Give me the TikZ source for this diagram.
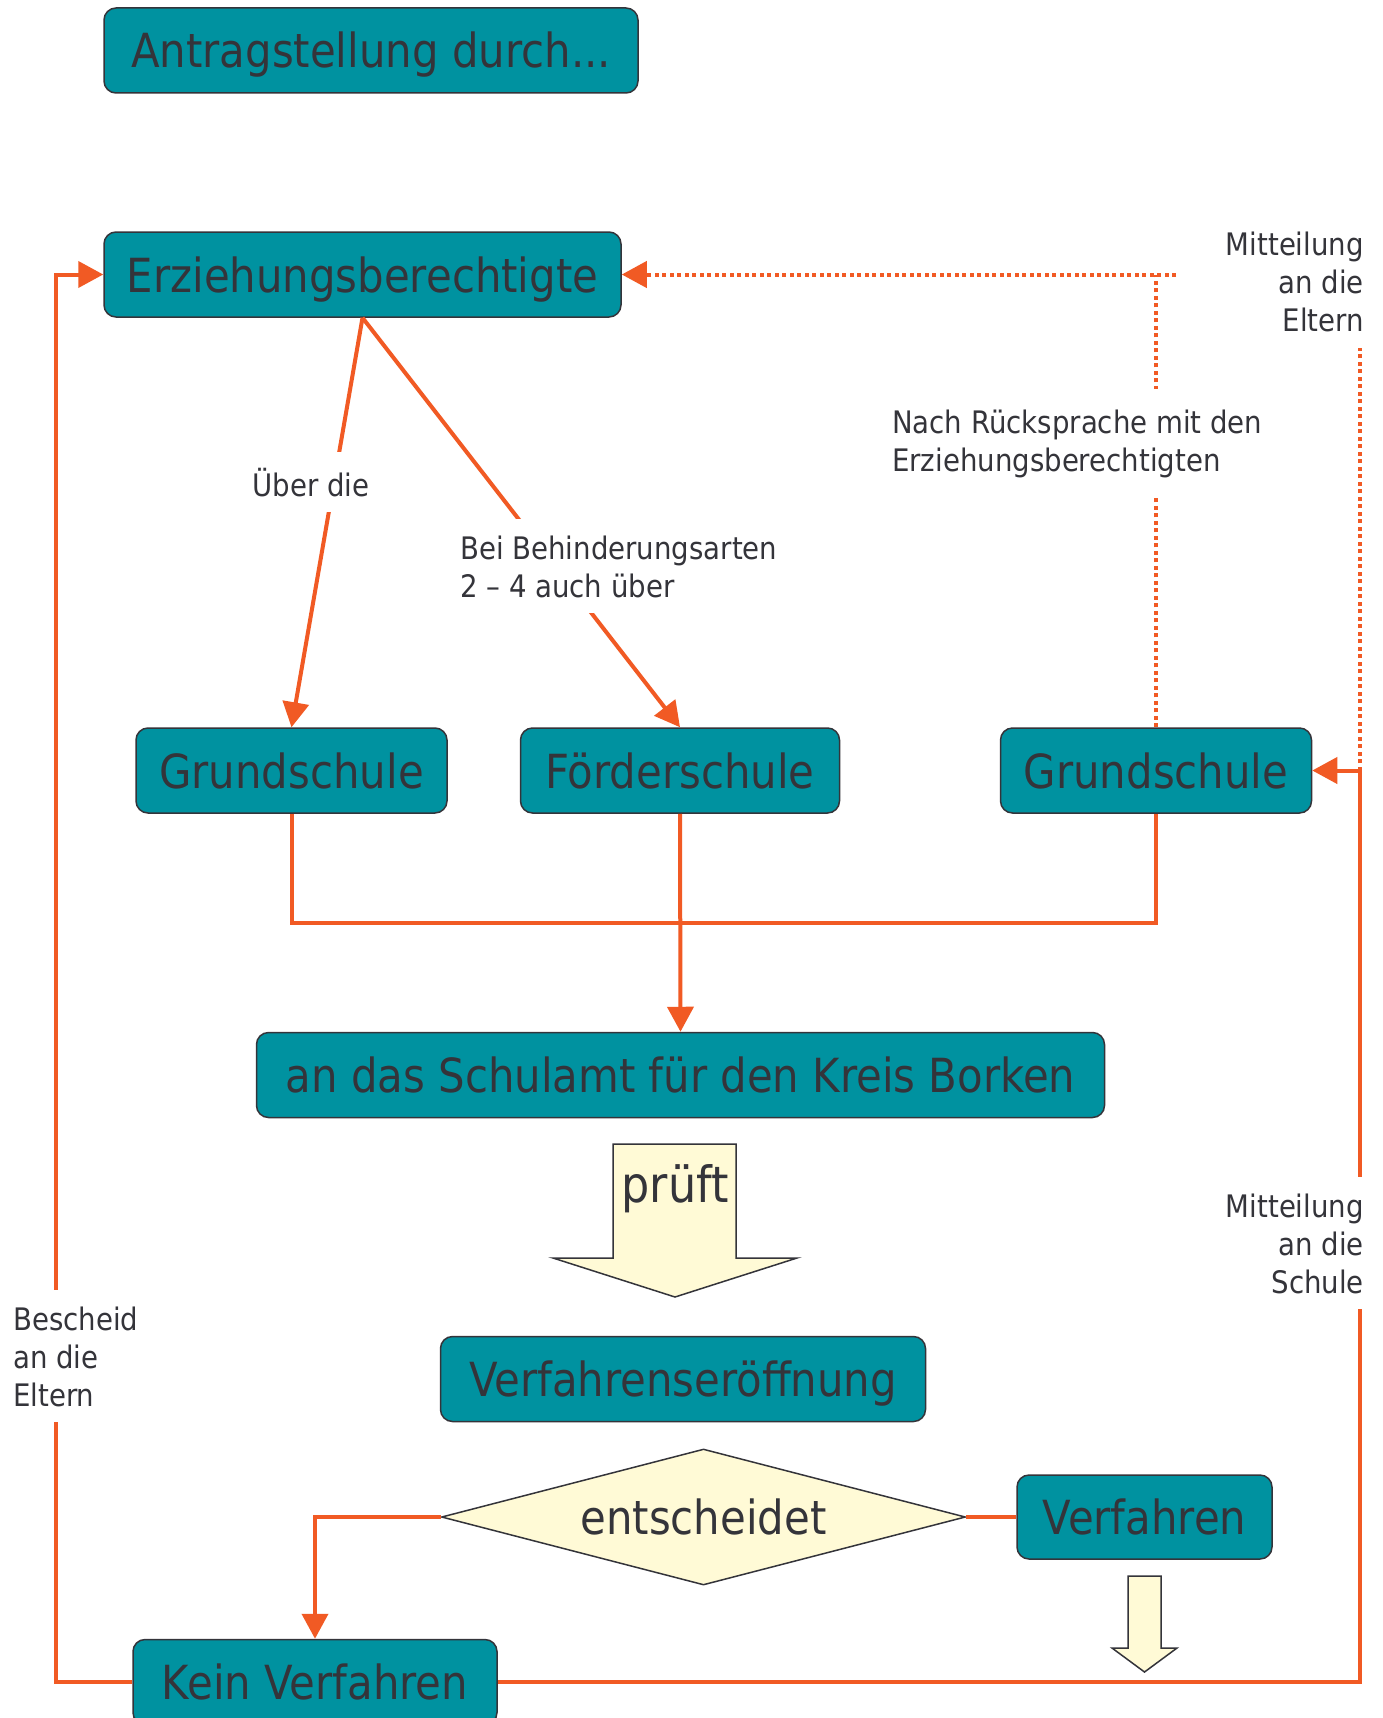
\documentclass[tikz,border=0pt]{standalone}
\usepackage{fontspec}
\setmainfont{DejaVu Sans}[FakeStretch=0.89]
\usepackage{tikz}
\usetikzlibrary{arrows.meta, shapes.geometric, calc}
\definecolor{boxteal}{RGB}{0, 146, 160}
\definecolor{textgray}{RGB}{52, 52, 58}
\definecolor{lineorange}{RGB}{241, 90, 36}
\definecolor{paleyellow}{RGB}{255, 250, 214}

\begin{document}
\begin{tikzpicture}[x=1pt, y=-1pt,
        box/.style={draw=textgray, line width=1.5pt, fill=boxteal, rounded corners=12pt,
            minimum height=85pt, inner sep=0pt, text height=45pt, text depth=10pt,
            text=textgray, font=\fontsize{47}{56}\selectfont},
        note/.style={fill=white, text=textgray, inner xsep=3pt, inner ysep=16pt,
            font=\fontsize{31}{38}\selectfont},
        link/.style={draw=lineorange, line width=4pt},
        dotlink/.style={draw=lineorange, line width=4pt, dash pattern=on 4pt off 3.5pt},
        tip/.style={-{Triangle[length=25pt, width=26pt]}},
        bigarrow/.style={draw=textgray, line width=1.5pt, fill=paleyellow}]
        % Rahmen
        \fill[white] (0,0) rectangle (1383,1718);
        \clip (0,0) rectangle (1383,1718);

        % Kästen
        \node[box, minimum width=534pt] (antrag) at (371, 50.5) {Antragstellung durch...};
        \node[box, minimum width=517pt] (erz) at (362.5, 274.5) {Erziehungsberechtigte};
        \node[box, minimum width=311pt] (gsL) at (291.5, 770.5) {Grundschule};
        \node[box, minimum width=319pt] (foerder) at (680, 770.5) {Förderschule};
        \node[box, minimum width=311pt] (gsR) at (1156, 770.5) {Grundschule};
        \node[box, minimum width=848pt] (amt) at (680.5, 1075) {an das Schulamt für den Kreis Borken};
        \node[box, minimum width=485pt] (eroeff) at (683, 1379) {Verfahrenseröffnung};
        \node[diamond, aspect=3.85, draw=textgray, line width=1.5pt, fill=paleyellow,
            minimum width=524pt, minimum height=136pt, inner sep=0pt,
            text=textgray, font=\fontsize{47}{56}\selectfont] (entsch) at (703.5, 1517) {entscheidet};
        \node[box, minimum width=255pt, minimum height=84pt] (verf) at (1144.5, 1517) {Verfahren};
        \node[box, minimum width=364pt] (kein) at (315, 1682) {Kein Verfahren};

        % Blockpfeile
        \filldraw[bigarrow] (613,1144) -- (736,1144) -- (736,1258) -- (797,1258)
            -- (675,1297) -- (553,1258) -- (613,1258) -- cycle;
        \node[text=textgray, font=\fontsize{50}{60}\selectfont, anchor=base] (prueft) at (675, 1202) {prüft};
        \filldraw[bigarrow] (1128,1576) -- (1161,1576) -- (1161,1648) -- (1177,1648)
            -- (1144.5,1672) -- (1112,1648) -- (1128,1648) -- cycle;

        % Mitteilung oben rechts
        \node[note, align=right, anchor=base east] (mitE) at (1367, 331) {Mitteilung\\an die\\Eltern};

        % Verbindungen
        \draw[link, tip] (erz.south) -- (gsL.north);
        \draw[link, tip] (erz.south) -- (foerder.north);
        \coordinate (join) at (680, 922.7);
        \draw[link] (gsL.south) |- (join) -| (gsR.south);
        \draw[link, tip] (foerder.south) -- (amt.north);
        \draw[link, tip] (entsch.west) -| (kein.north);
        \draw[link] (entsch.east) -- (verf.west);
        \coordinate (lx) at (56, 0);
        \coordinate (rx) at (1360, 0);
        \draw[link, tip] (kein.west) -- (kein.west -| lx) |- (erz.west);
        \draw[link, tip] (kein.east) -- (kein.east -| rx) |- (gsR.east);

        % gepunktete Linien
        \coordinate (dotEnd) at (1176, 274.5);
        \draw[dotlink, tip] (dotEnd) -- (erz.east);
        \draw[dotlink] (gsR.north) -- (gsR.north |- erz.east);
        \draw[dotlink] (gsR.east -| rx) -- (mitE.south -| rx);

        % Beschriftungen
        \node[note, anchor=base] (ueber) at (311, 496) {Über die};
        \node[note, align=left, anchor=base west] (bei) at (457, 597) {Bei Behinderungsarten\\2 – 4 auch über};
        \node[note, align=left, anchor=base west, inner ysep=20pt] (nach) at (889, 471)
            {Nach Rücksprache mit den\\Erziehungsberechtigten};
        \node[note, align=left, anchor=base west] (bescheid) at (10, 1406) {Bescheid\\an die\\Eltern};
        \node[note, align=right, anchor=base east] (mitS) at (1367, 1293) {Mitteilung\\an die\\Schule};
    \end{tikzpicture}
\end{document}
